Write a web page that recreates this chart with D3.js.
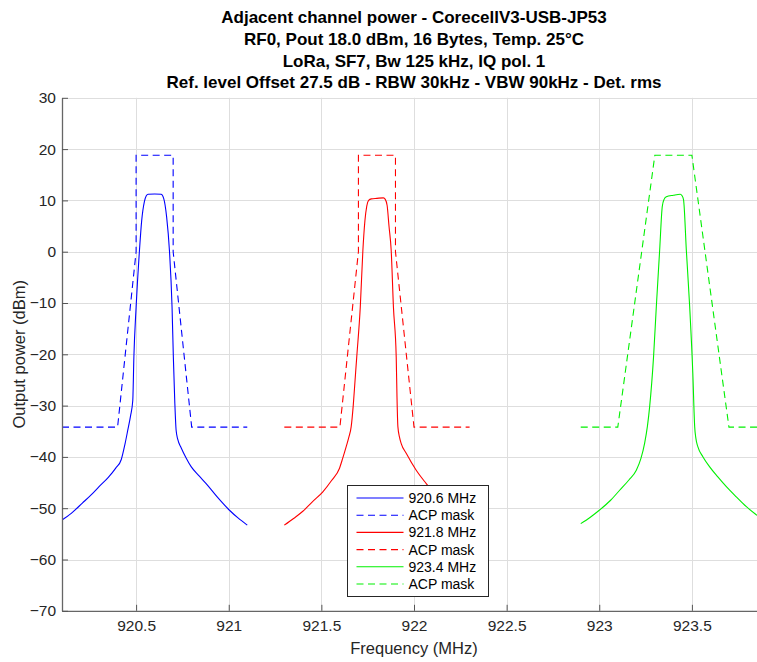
<!DOCTYPE html>
<html>
<head>
<meta charset="utf-8">
<script src="https://cdn.jsdelivr.net/npm/d3@7"></script>
<style>
  body { margin: 0; background: #fff; }
  svg { font-family: "Liberation Sans", Arial, sans-serif; }
</style>
</head>
<body>
<svg id="chart" width="757" height="662"></svg>
<script>
const titleLines = [
  'Adjacent channel power - CorecellV3-USB-JP53',
  'RF0, Pout 18.0 dBm, 16 Bytes, Temp. 25°C',
  'LoRa, SF7, Bw 125 kHz, IQ pol. 1',
  'Ref. level Offset 27.5 dB - RBW 30kHz - VBW 90kHz - Det. rms'
]

const xTicks = [920.5, 921, 921.5, 922, 922.5, 923, 923.5]
const yTicks = [30, 20, 10, 0, -10, -20, -30, -40, -50, -60, -70]

// measured spectrum, [MHz, dBm]
const trace920 = [
  [920.10, -52.3], [920.15, -51.0], [920.21, -49.0], [920.26, -47.3], [920.30, -45.8],
  [920.35, -44.0], [920.39, -42.2], [920.42, -40.5], [920.44, -37.5], [920.455, -34.8],
  [920.47, -32.0], [920.482, -29.0], [920.488, -20.5], [920.50, -10.8], [920.518, 0.2],
  [920.53, 6.0], [920.545, 9.8], [920.555, 10.9], [920.565, 11.2], [920.60, 11.25],
  [920.635, 11.2], [920.648, 10.5], [920.665, 6.7], [920.68, 0.2], [920.694, -10.8],
  [920.701, -20.5], [920.709, -29.5], [920.716, -34.8], [920.725, -36.6], [920.743, -38.2],
  [920.77, -40.2], [920.797, -41.9], [920.84, -43.7], [920.878, -45.2], [920.94, -47.9],
  [921.004, -50.4], [921.05, -51.9], [921.10, -53.3]
]

const trace921 = [
  [921.30, -53.3], [921.35, -52.0], [921.40, -50.6], [921.45, -48.8], [921.508, -46.8],
  [921.555, -44.6], [921.598, -42.2], [921.615, -40.3], [921.634, -38.0], [921.648, -36.2],
  [921.661, -34.1], [921.672, -30.0], [921.682, -25.0], [921.691, -20.5], [921.71, -10.8],
  [921.724, 0.2], [921.735, 6.0], [921.745, 8.9], [921.755, 10.0], [921.77, 10.3],
  [921.80, 10.4], [921.835, 10.5], [921.845, 10.2], [921.855, 9.0], [921.865, 5.0],
  [921.877, 0.2], [921.889, -10.8], [921.904, -20.5], [921.908, -28.0], [921.913, -34.1],
  [921.922, -36.2], [921.931, -37.4], [921.958, -39.3], [922.012, -42.6], [922.066, -45.2],
  [922.13, -48.0], [922.20, -50.6], [922.30, -53.3]
]

const trace923 = [
  [922.90, -53.0], [922.95, -51.8], [923.00, -50.4], [923.06, -48.5], [923.11, -46.5],
  [923.16, -44.5], [923.20, -42.6], [923.225, -40.3], [923.245, -37.3], [923.26, -34.0],
  [923.272, -30.2], [923.293, -20.5], [923.308, -10.7], [923.326, 0.3], [923.34, 8.8],
  [923.35, 10.2], [923.362, 10.7], [923.40, 11.0], [923.437, 11.2], [923.447, 10.9],
  [923.455, 10.1], [923.47, 0.3], [923.488, -10.7], [923.505, -23.7], [923.515, -34.1],
  [923.522, -36.5], [923.532, -38.0], [923.56, -40.0], [923.595, -41.9], [923.64, -43.9],
  [923.686, -45.8], [923.74, -47.8], [923.794, -49.7], [923.848, -51.3], [923.90, -52.7]
]

// ACP masks, [MHz, dBm]
const mask920 = [
  [920.1, -34.2], [920.4, -34.2], [920.5, 0], [920.5, 18.8],
  [920.7, 18.8], [920.7, 0], [920.8, -34.2], [921.1, -34.2]
]
const mask921 = [
  [921.3, -34.2], [921.6, -34.2], [921.7, 0], [921.7, 18.8],
  [921.9, 18.8], [921.9, 0], [922.0, -34.2], [922.3, -34.2]
]
const mask923 = [
  [922.9, -34.2], [923.1, -34.2], [923.3, 18.8],
  [923.5, 18.8], [923.7, -34.2], [923.9, -34.2]
]

const seriesNames = ['920.6 MHz', 'ACP mask', '921.8 MHz', 'ACP mask', '923.4 MHz', 'ACP mask']
const seriesColors = ['#0000ff', '#0000ff', '#ff0000', '#ff0000', '#00f000', '#00f000']
const seriesData = [trace920, mask920, trace921, mask921, trace923, mask923]

const svg = d3.select('#chart')
const plotLeft = 62, plotRight = 766, plotTop = 97.8, plotBottom = 610.8

const x = d3.scaleLinear().domain([920.1, 923.9]).range([plotLeft, plotRight])
const y = d3.scaleLinear().domain([-70, 30]).range([plotBottom, plotTop])

svg.append('rect').attr('width', 757).attr('height', 662).attr('fill', '#fff')

// grid
const grid = svg.append('g').attr('stroke', '#dedede').attr('stroke-width', 1)
grid.selectAll('line.gx').data(xTicks).enter().append('line')
  .attr('x1', d => Math.round(x(d)) + 0.5).attr('x2', d => Math.round(x(d)) + 0.5)
  .attr('y1', plotTop).attr('y2', plotBottom)
grid.selectAll('line.gy').data(yTicks).enter().append('line')
  .attr('y1', d => Math.round(y(d)) + 0.5).attr('y2', d => Math.round(y(d)) + 0.5)
  .attr('x1', plotLeft).attr('x2', plotRight)

svg.append('clipPath').attr('id', 'plot-clip')
  .append('rect').attr('x', plotLeft).attr('y', plotTop)
  .attr('width', plotRight - plotLeft).attr('height', plotBottom - plotTop)

const line = d3.line().x(d => x(d[0])).y(d => y(d[1]))
const curve = d3.line().x(d => x(d[0])).y(d => y(d[1])).curve(d3.curveMonotoneX)

const plot = svg.append('g').attr('clip-path', 'url(#plot-clip)')
seriesData.forEach((data, i) => {
  const dashed = i % 2 === 1
  plot.append('path')
    .datum(data)
    .attr('fill', 'none')
    .attr('stroke', seriesColors[i])
    .attr('stroke-width', 1.1)
    .attr('stroke-dasharray', dashed ? '7,4.5' : null)
    .attr('d', dashed ? line : curve)
})

// axes
const xAxis = svg.append('g')
  .attr('transform', `translate(0,${plotBottom})`)
  .call(d3.axisBottom(x).tickValues(xTicks).tickFormat(d3.format('')).tickSizeInner(-6).tickSizeOuter(0).tickPadding(9))
const yAxis = svg.append('g')
  .attr('transform', `translate(${plotLeft},0)`)
  .call(d3.axisLeft(y).tickValues(yTicks).tickSizeInner(-6).tickSizeOuter(0).tickPadding(6))

;[xAxis, yAxis].forEach(g => {
  g.select('.domain').attr('stroke', '#666').attr('stroke-width', 1.3)
  g.selectAll('.tick line').attr('stroke', '#555')
  g.selectAll('.tick text').attr('fill', '#262626').style('font-size', '15.5px')
    .style('font-family', '"Liberation Sans", Arial, sans-serif')
})

svg.append('text')
  .attr('x', (plotLeft + plotRight) / 2).attr('y', 654)
  .attr('text-anchor', 'middle').attr('fill', '#262626')
  .style('font-size', '16.5px')
  .text('Frequency (MHz)')

svg.append('text')
  .attr('transform', `translate(25,${(plotTop + plotBottom) / 2}) rotate(-90)`)
  .attr('text-anchor', 'middle').attr('fill', '#262626')
  .style('font-size', '16.5px')
  .text('Output power (dBm)')

// title
svg.append('g').selectAll('text').data(titleLines).enter().append('text')
  .attr('x', (plotLeft + plotRight) / 2)
  .attr('y', (d, i) => 23 + i * 21.8)
  .attr('text-anchor', 'middle')
  .attr('fill', '#000')
  .style('font-size', '17px')
  .style('font-weight', 'bold')
  .text(d => d)

// legend
const legend = svg.append('g').attr('transform', 'translate(347.5,485.5)')
legend.append('rect')
  .attr('width', 141).attr('height', 111)
  .attr('fill', '#fff').attr('stroke', '#262626').attr('stroke-width', 1)
const rows = legend.selectAll('g.row').data(seriesNames).enter().append('g')
  .attr('transform', (d, i) => `translate(0,${12.5 + i * 17.2})`)
rows.append('line')
  .attr('x1', 9).attr('x2', 56)
  .attr('stroke', (d, i) => seriesColors[i])
  .attr('stroke-width', 1.1)
  .attr('stroke-dasharray', (d, i) => i % 2 === 1 ? '7,4.5' : null)
rows.append('text')
  .attr('x', 61).attr('y', 5)
  .attr('fill', '#000')
  .style('font-size', '14px')
  .text(d => d)
</script>
</body>
</html>
